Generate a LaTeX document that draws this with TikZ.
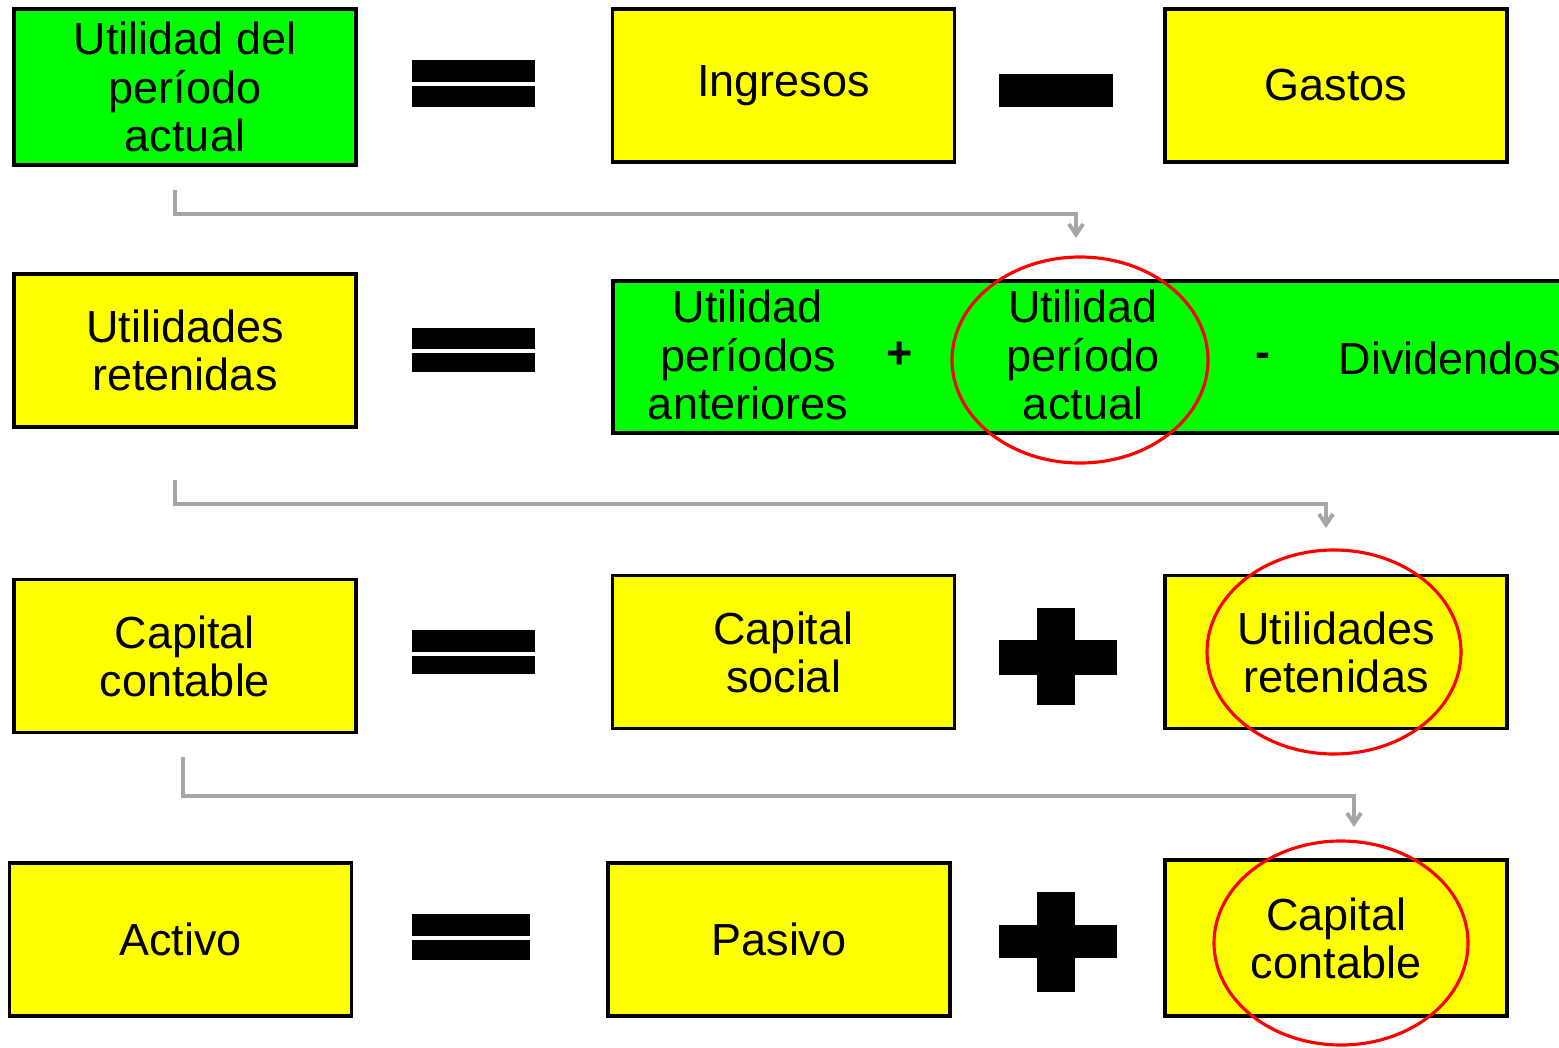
\documentclass[tikz,border=0pt]{standalone}
\usepackage{fontspec}
\setmainfont{Liberation Sans}
\usetikzlibrary{arrows.meta}

\definecolor{boxgreen}{RGB}{0,255,0}
\definecolor{boxyellow}{RGB}{255,255,0}

\tikzset{
    box/.style={draw, line width=0.9pt, minimum width=3.42cm, minimum height=1.53cm,
        align=center, inner sep=0pt, font=\fontsize{12.8}{13.7}\selectfont},
    txt/.style={align=center, inner sep=0pt, font=\fontsize{12.8}{13.7}\selectfont},
    sign/.style={txt, font=\fontsize{12.8}{13.7}\selectfont\bfseries},
    link/.style={draw=gray!70, line width=1.1pt, -{Straight Barb[length=3pt,width=4pt]}},
    ring/.style={draw=red, line width=0.9pt}
}

\begin{document}
\begin{tikzpicture}
    \clip (0,0) rectangle (15.59,-10.48);

    % first row
    \node[box, fill=boxgreen, minimum height=1.56cm] (up) at (1.85,-0.87) {Utilidad del\\período\\actual};
    \fill (4.12,-0.60) rectangle (5.35,-0.82);
    \fill (4.12,-0.86) rectangle (5.35,-1.07);
    \node[box, fill=boxyellow] (ing) at (7.835,-0.855) {Ingresos};
    \fill (9.99,-0.74) rectangle (11.13,-1.07);
    \node[box, fill=boxyellow] (gas) at (13.36,-0.855) {\raisebox{-0.05cm}{Gastos}};

    \coordinate (s1) at (1.75,-1.90);
    \coordinate (e1) at (10.76,-2.38);
    \draw[link] (s1) -- ++(0,-0.24) -| (e1);

    % second row
    \node[box, fill=boxyellow] (ur) at (1.85,-3.505) {Utilidades\\retenidas};
    \fill (4.12,-3.28) rectangle (5.35,-3.49);
    \fill (4.12,-3.53) rectangle (5.35,-3.72);
    \node[box, fill=boxgreen, minimum width=10cm, minimum height=1.52cm] (sum) at (11.13,-3.57) {};
    \node[txt] (ant) at (7.48,-3.55) {Utilidad\\períodos\\anteriores};
    \node[sign] (pls) at (9.00,-3.55) {+};
    \node[sign] (mns) at (12.63,-3.60) {-};
    \node[txt] (act) at (10.83,-3.55) {Utilidad\\período\\actual};
    \node[txt, anchor=west] (div) at (13.38,-3.58) {Dividendos};
    \draw[ring] (10.80,-3.60) ellipse (1.28 and 1.03);

    \coordinate (s2) at (1.75,-4.80);
    \coordinate (e2) at (13.26,-5.28);
    \draw[link] (s2) -- ++(0,-0.24) -| (e2);

    % third row
    \node[box, fill=boxyellow] (cc) at (1.85,-6.56) {Capital\\contable};
    \fill (4.12,-6.30) rectangle (5.35,-6.52);
    \fill (4.12,-6.56) rectangle (5.35,-6.74);
    \node[box, fill=boxyellow] (cs) at (7.835,-6.52) {Capital\\social};
    \fill (9.99,-6.40) rectangle (11.17,-6.75);
    \fill (10.37,-6.08) rectangle (10.75,-7.05);
    \node[box, fill=boxyellow] (ur2) at (13.36,-6.52) {Utilidades\\retenidas};
    \draw[ring] (13.34,-6.52) ellipse (1.27 and 1.02);

    \coordinate (s3) at (1.83,-7.57);
    \coordinate (e3) at (13.54,-8.27);
    \draw[link] (s3) -- ++(0,-0.39) -| (e3);

    % fourth row
    \node[box, fill=boxyellow] (act4) at (1.805,-9.395) {Activo};
    \fill (4.12,-9.14) rectangle (5.30,-9.36);
    \fill (4.12,-9.40) rectangle (5.30,-9.60);
    \node[box, fill=boxyellow] (pas) at (7.79,-9.395) {Pasivo};
    \fill (9.99,-9.25) rectangle (11.17,-9.58);
    \fill (10.37,-8.92) rectangle (10.75,-9.92);
    \node[box, fill=boxyellow, minimum height=1.56cm] (cc2) at (13.36,-9.38) {Capital\\contable};
    \draw[ring] (13.41,-9.43) ellipse (1.27 and 1.02);
\end{tikzpicture}
\end{document}
